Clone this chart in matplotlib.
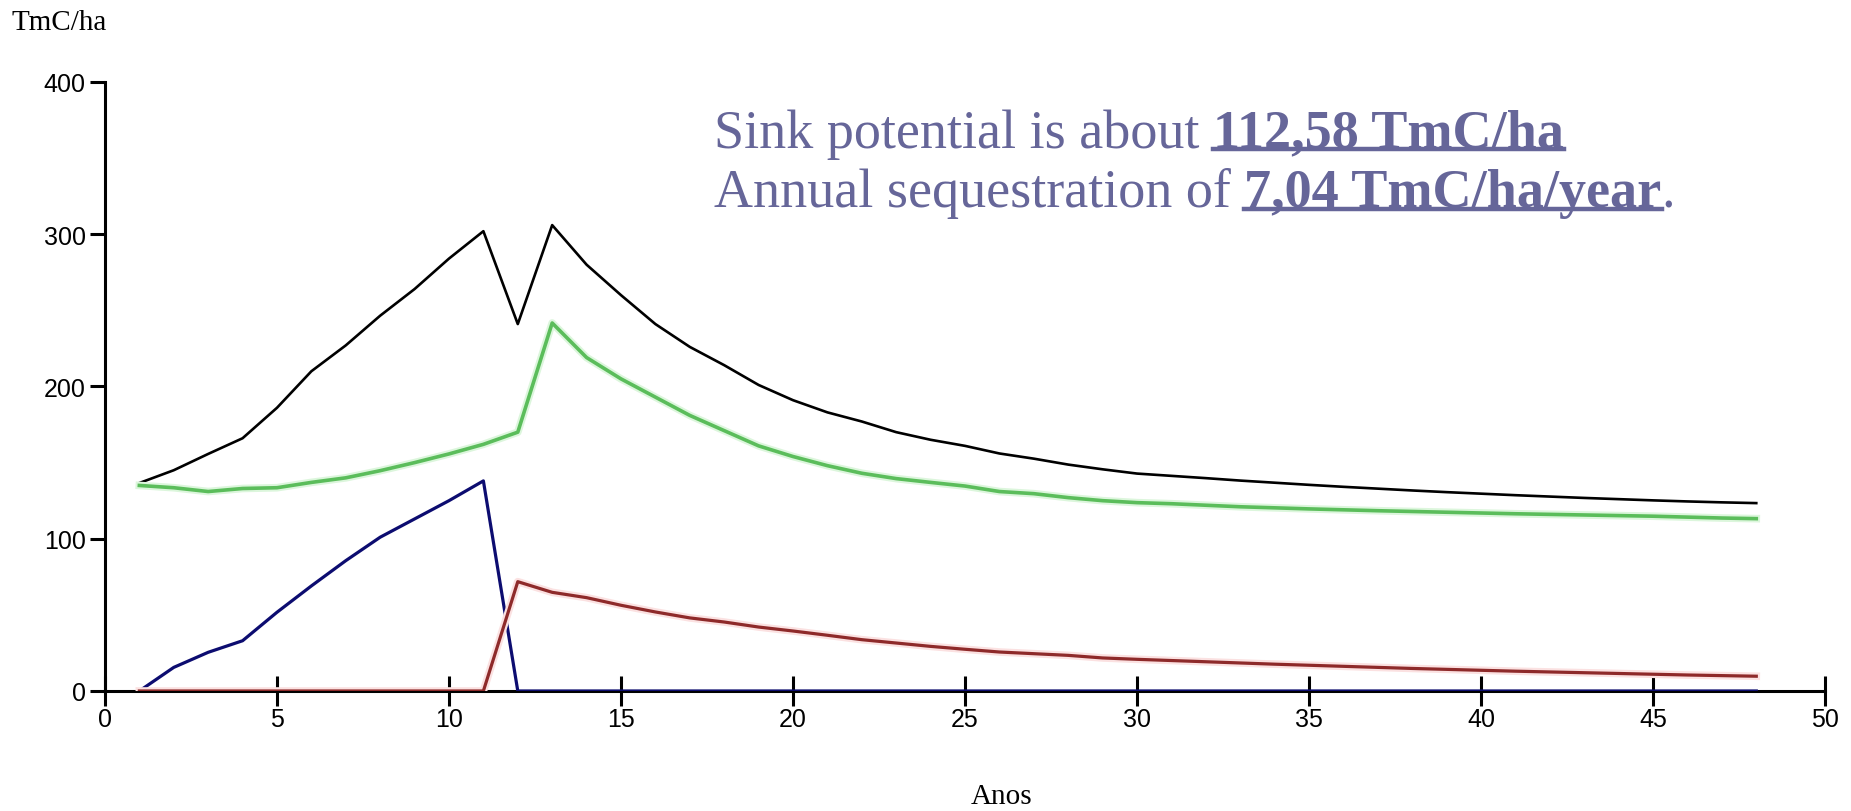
import matplotlib.pyplot as plt
import matplotlib.patheffects as pe
from matplotlib.lines import Line2D

# anos 1..48
anos = list(range(1, 49))

# total (preto)
total = [136.6, 145, 155.7, 166, 186, 210, 227, 246.5, 264, 284,
         302, 241, 306, 280, 260, 241, 226, 214, 201, 191,
         183, 177, 170, 165, 161, 156, 152.6, 148.7, 145.6, 142.8,
         141.3, 139.8, 138.2, 136.8, 135.4, 134.1, 132.9, 131.7, 130.6, 129.6,
         128.6, 127.7, 126.8, 126, 125.2, 124.5, 123.9, 123.4]
# solo (verde)
solo = [135, 133.5, 131, 133, 133.5, 137, 140, 144.7, 150, 155.7,
        162, 170, 241.7, 219, 205, 193, 181, 171, 161, 154,
        148, 143, 139.5, 137, 134.6, 131, 129.6, 127, 125, 123.7,
        123, 122, 121, 120.3, 119.6, 119, 118.4, 117.9, 117.4, 116.9,
        116.4, 116, 115.6, 115.2, 114.8, 114.2, 113.6, 113.2]
# biomassa (azul)
biomassa = [0, 15.5, 25.4, 33, 51.7, 69, 85.6, 101, 113, 125,
            138] + [0] * 37
# produtos (vermelho)
produtos = [0] * 11 + [71.8, 64.8, 61.3, 56.3, 51.9, 48, 45.3, 42, 39.4,
                       36.6, 33.7, 31.5, 29.3, 27.4, 25.6, 24.5, 23.4, 21.7, 20.8,
                       20, 19.2, 18.4, 17.6, 16.9, 16.2, 15.5, 14.8, 14.2, 13.6,
                       13, 12.5, 12, 11.5, 11, 10.5, 10.1, 9.7]

xticks = list(range(0, 51, 5))
yticks = [0, 100, 200, 300, 400]

fig = plt.figure(figsize=(18.51, 8.12), dpi=100)
ax = fig.add_axes([0.0567, 0.1478, 0.9293, 0.75])

def halo(cor):
    return [pe.Stroke(linewidth=5.5, foreground=cor), pe.Normal()]

ax.plot(anos, total, color="black", lw=1.9, zorder=4)
ax.plot(anos, solo, color="#5bbd5b", lw=2.6, zorder=4, path_effects=halo("#dcf6dc"))
ax.plot(anos, biomassa, color="#0c0c70", lw=2.3, zorder=4)
ax.plot(anos, produtos, color="#8e2a2a", lw=2.3, zorder=4, path_effects=halo("#fbe1e1"))

ax.set_xlim(0, 50)
ax.set_ylim(0, 400)
ax.set_xticks(xticks)
ax.set_yticks(yticks)
ax.spines["top"].set_visible(False)
ax.spines["right"].set_visible(False)
ax.spines["left"].set_linewidth(2.2)
ax.spines["bottom"].set_linewidth(2.2)
ax.tick_params(axis="x", direction="inout", length=21, width=2.2, pad=1,
               labelsize=18, labelfontfamily="Liberation Sans")
ax.tick_params(axis="y", direction="out", length=11, width=2.2, pad=3,
               labelsize=18, labelfontfamily="Liberation Sans")

fig.text(0.006, 0.988, "TmC/ha", fontsize=21, family="Liberation Serif", va="top")
fig.text(0.541, 0.003, "Anos", fontsize=21, family="Liberation Serif", ha="center", va="bottom")

# texto anotado
cor = "#666699"
tam = 39
t1 = fig.text(0.3857, 0.818, "Sink potential is about ", fontsize=tam, color=cor,
              family="Liberation Serif", va="baseline")
b1 = ax.annotate("112,58 TmC/ha", xy=(1, 0), xycoords=t1, fontsize=tam, color=cor,
                 family="Liberation Serif", weight="bold", va="bottom", annotation_clip=False)
t2 = fig.text(0.3857, 0.745, "Annual sequestration of ", fontsize=tam, color=cor,
              family="Liberation Serif", va="baseline")
b2 = ax.annotate("7,04 TmC/ha/year", xy=(1, 0), xycoords=t2, fontsize=tam, color=cor,
                 family="Liberation Serif", weight="bold", va="bottom", annotation_clip=False)
p2 = ax.annotate(".", xy=(1, 0), xycoords=b2, fontsize=tam, color=cor,
                 family="Liberation Serif", va="bottom", annotation_clip=False)

fig.canvas.draw()
r = fig.canvas.get_renderer()
for t in [b1, b2]:
    bb = t.get_window_extent(r)
    y = bb.y0 + 0.19 * bb.height
    fig.add_artist(Line2D([bb.x0 / fig.bbox.width, bb.x1 / fig.bbox.width],
                          [y / fig.bbox.height, y / fig.bbox.height],
                          color=cor, lw=3.2, transform=fig.transFigure))

fig.savefig("out.png", dpi=100)
